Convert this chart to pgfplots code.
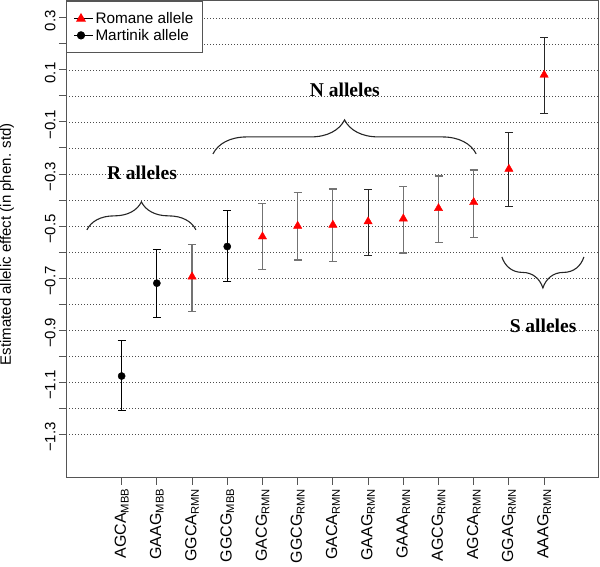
\documentclass[border=0pt]{standalone}
\usepackage{pgfplots}
\pgfplotsset{compat=1.18}
\usepackage{fontspec}
\setmainfont{Liberation Sans}
\newfontfamily\serifb{Liberation Serif}
\usetikzlibrary{decorations.pathreplacing}
\definecolor{axgray}{HTML}{555555}
\begin{document}
\begin{tikzpicture}[x=1pt,y=1pt]
\useasboundingbox (0,0) rectangle (600,567);
\begin{axis}[
  at={(66pt,89pt)}, anchor=south west,
  scale only axis, width=532pt, height=477pt,
  xmin=-0.58, xmax=14.53, ymin=-1.469, ymax=0.365,
  axis line style={draw=axgray, line width=1pt},
  tick style={draw=axgray, line width=0.9pt},
  tick align=outside, major tick length=7pt, minor tick length=7pt,
  xtick={1,...,13},
  xticklabels={AGCA\textsubscript{MBB},GAAG\textsubscript{MBB},GGCA\textsubscript{RMN},GGCG\textsubscript{MBB},GACG\textsubscript{RMN},GGCG\textsubscript{RMN},GACA\textsubscript{RMN},GAAG\textsubscript{RMN},GAAA\textsubscript{RMN},AGCG\textsubscript{RMN},AGCA\textsubscript{RMN},GGAG\textsubscript{RMN},AAAG\textsubscript{RMN}},
  xticklabel style={rotate=90, anchor=east, font=\fontsize{16}{18}\selectfont},
  xtick pos=bottom, ytick pos=left,
  ytick={-1.3,-1.1,-0.9,-0.7,-0.5,-0.3,-0.1,0.1,0.3},
  yticklabels={−1.3,−1.1,−0.9,−0.7,−0.5,−0.3,−0.1,0.1,0.3},
  minor ytick={-1.2,-1.0,-0.8,-0.6,-0.4,-0.2,0.0,0.2},
  yticklabel style={rotate=90, anchor=south, xshift=-3pt, font=\fontsize{15}{17}\selectfont},
  ymajorgrids, yminorgrids,
  major grid style={draw=black!70, line width=0.7pt, dash pattern=on 0.8pt off 2.2pt},
  minor grid style={draw=black!70, line width=0.7pt, dash pattern=on 0.8pt off 2.2pt},
  ylabel={Estimated allelic effect (in phen. std)},
  ylabel style={at={(axis description cs:-0.111,0.49)}, anchor=center, font=\fontsize{15}{18}\selectfont},
  legend style={at={(0,1)}, anchor=north west, draw=axgray, line width=1pt, fill=white,
    font=\fontsize{15.3}{18}\selectfont, inner xsep=7pt, inner ysep=9pt, row sep=0pt},
  legend image code/.code={\path (0pt,0pt) -- (19pt,0pt); \draw[#1, mark repeat=2, mark phase=2] plot coordinates {(0pt,0pt) (7pt,0pt) (14pt,0pt)};},
  legend cell align=left,
  error bars/y dir=both, error bars/y explicit,
]
% Romane, gray error bars
\addplot[only marks, mark=triangle*, mark size=4.8pt, mark options={fill=red, draw=red},
  error bars/error bar style={draw=black!55, line width=1.1pt},
  error bars/error mark options={draw=black!55, line width=1.1pt, rotate=90, mark size=4pt}]
coordinates {
 (3,-0.695) += (0,0.124) -= (0,0.134)
 (5,-0.541) += (0,0.128) -= (0,0.128)
 (6,-0.500) += (0,0.128) -= (0,0.131)
 (7,-0.496) += (0,0.138) -= (0,0.141)
 (9,-0.472) += (0,0.123) -= (0,0.132)
 (10,-0.432) += (0,0.124) -= (0,0.132)
 (11,-0.409) += (0,0.124) -= (0,0.135)
};
\addlegendentry{Romane allele}
% Martinik
\addplot[only marks, mark=*, mark size=3.6pt, mark options={fill=black, draw=black},
  error bars/error bar style={draw=black, line width=1.1pt},
  error bars/error mark options={draw=black, line width=1.1pt, rotate=90, mark size=4pt}]
coordinates {
 (1,-1.077) += (0,0.135) -= (0,0.131)
 (2,-0.720) += (0,0.128) -= (0,0.131)
 (4,-0.579) += (0,0.137) -= (0,0.133)
};
\addlegendentry{Martinik allele}
% Romane, dark error bars
\addplot[only marks, mark=triangle*, mark size=4.8pt, mark options={fill=red, draw=red}, forget plot,
  error bars/error bar style={draw=black!85, line width=1.1pt},
  error bars/error mark options={draw=black!85, line width=1.1pt, rotate=90, mark size=4pt}]
coordinates {
 (8,-0.483) += (0,0.123) -= (0,0.132)
 (12,-0.281) += (0,0.141) -= (0,0.145)
 (13,0.081) += (0,0.143) -= (0,0.148)
};
% braces
\draw[decorate, decoration={brace, amplitude=28pt}, line width=1.1pt, black!85]
  (axis cs:0.014,-0.515) -- (axis cs:3.11,-0.515);
\draw[decorate, decoration={brace, amplitude=34pt}, line width=1.1pt, black!85]
  (axis cs:3.594,-0.223) -- (axis cs:11.07,-0.223);
\draw[decorate, decoration={brace, amplitude=31pt}, line width=1.1pt, black!85]
  (axis cs:14.13,-0.619) -- (axis cs:11.80,-0.619);
\node[font=\serifb\bfseries\fontsize{19.5}{22}\selectfont] at (axis cs:1.577,-0.296) {R alleles};
\node[font=\serifb\bfseries\fontsize{19.5}{22}\selectfont] at (axis cs:7.34,0.023) {N alleles};
\node[font=\serifb\bfseries\fontsize{19.5}{22}\selectfont] at (axis cs:12.97,-0.885) {S alleles};
\end{axis}
\end{tikzpicture}
\end{document}
